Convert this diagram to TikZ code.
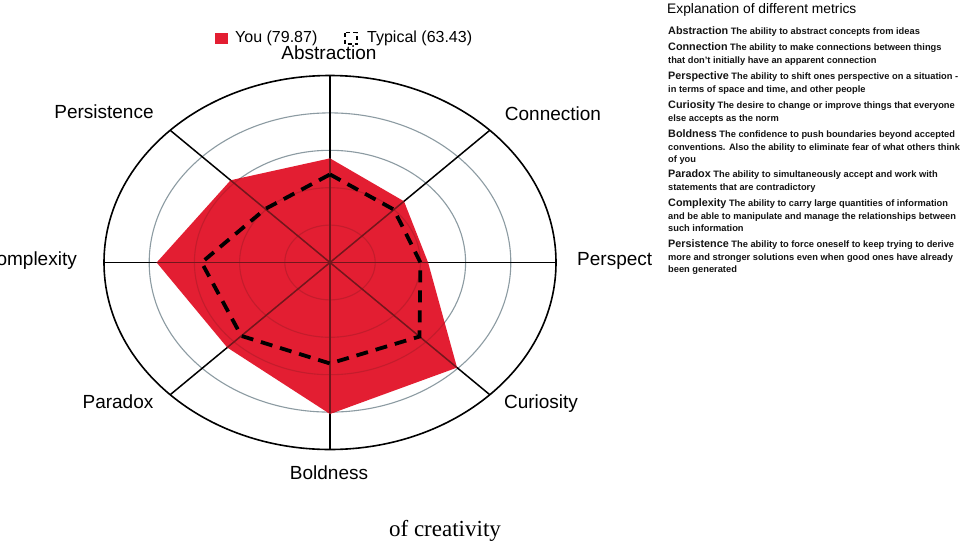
\documentclass[tikz,border=0pt]{standalone}
\usepackage{fontspec}
\setmainfont{Liberation Sans}
\newfontfamily\capfont{Liberation Serif}
\definecolor{youred}{RGB}{227,30,50}
\definecolor{ringgray}{RGB}{140,155,162}
\definecolor{axisred}{RGB}{115,22,28}
\definecolor{ringred}{RGB}{196,28,44}
\newcommand\mterm[1]{{\fontsize{10.8}{13}\selectfont #1}}
\tikzset{
  axlabel/.style={anchor=base, inner sep=0pt, font=\fontsize{19}{22}\selectfont},
  legtext/.style={anchor=base west, inner sep=0pt, font=\fontsize{16}{19}\selectfont},
  desc/.style={anchor=base west, inner sep=0pt, font=\fontsize{9.3}{11}\selectfont\bfseries, text=black!92},
  ringline/.style={ringgray, line width=1.1pt},
  axisline/.style={black, line width=1.5pt},
  typline/.style={black, line width=3.8pt, dash pattern=on 12pt off 8pt, line join=miter},
}
\begin{document}
\begin{tikzpicture}[x=1pt,y=1pt]
\clip (0,0) rectangle (964,-544);
\fill[white] (0,0) rectangle (964,-544);

\begin{scope}[shift={(330,-262.5)}]
  \coordinate (O) at (0,0);
  \foreach \r in {0.2,0.4,0.6,0.8}
    \draw[ringline] (O) ellipse ({\r*226} and {\r*187});
  \draw[black, line width=1.6pt] (O) ellipse (226 and 187);
  \foreach \a [count=\i] in {90,45,0,-45,-90,-135,180,135}
    \coordinate (a\i) at (\a:226 and 187);
  \foreach \i in {1,...,8}
    \draw[axisline] (O) -- (a\i);
  % You
  \foreach \a/\r [count=\i] in {90/0.557,45/0.463,0/0.434,-45/0.795,-90/0.81,-135/0.643,180/0.767,135/0.622}
    \coordinate (y\i) at (\a:{\r*226} and {\r*187});
  \fill[youred] (y1) -- (y2) -- (y3) -- (y4) -- (y5) -- (y6) -- (y7) -- (y8) -- cycle;
  \begin{scope}
    \clip (y1) -- (y2) -- (y3) -- (y4) -- (y5) -- (y6) -- (y7) -- (y8) -- cycle;
    \foreach \r in {0.2,0.4,0.6,0.8}
      \draw[ringred, line width=1.1pt] (O) ellipse ({\r*226} and {\r*187});
    \foreach \i in {1,...,8}
      \draw[axisred, line width=1.5pt] (O) -- (a\i);
  \end{scope}
  % Typical
  \foreach \a/\r [count=\i] in {90/0.471,45/0.40,0/0.40,-45/0.56,-90/0.54,-135/0.555,180/0.568,135/0.405}
    \coordinate (t\i) at (\a:{\r*226} and {\r*187});
  \draw[typline] (t1) -- (t2) -- (t3) -- (t4) -- (t5) -- (t6) -- (t7) -- (t8) -- cycle;
\end{scope}

% axis labels
\node[axlabel] (lab1) at (329,-59.5) {Abstraction};
\node[axlabel] (lab2) at (553,-120) {Connection};
\node[axlabel, anchor=base west] (lab3) at (577,-265) {Perspect};
\node[axlabel] (lab4) at (541,-408) {Curiosity};
\node[axlabel] (lab5) at (329,-479) {Boldness};
\node[axlabel] (lab6) at (118,-408) {Paradox};
\node[axlabel, anchor=base east] (lab7) at (77,-265) {Complexity};
\node[axlabel] (lab8) at (104,-118.3) {Persistence};

% legend
\fill[youred] (215,-32.5) rectangle (228,-43.5);
\node[legtext] (leg1) at (235,-42.7) {You (79.87)};
\draw[black, line width=1.6pt, dash pattern=on 4pt off 3pt] (345,-32.5) rectangle (357,-44);
\node[legtext] (leg2) at (367,-42.7) {Typical (63.43)};

% explanation panel
\node[anchor=base west, inner sep=0pt, font=\fontsize{13.8}{16}\selectfont] (title) at (667,-13.5) {Explanation of different metrics};
\node[desc] (d1) at (668,-34) {\mterm{Abstraction} The ability to abstract concepts from ideas};
\node[desc] (d2) at (668,-50) {\mterm{Connection} The ability to make connections between things};
\node[desc] (d2b) at (668,-63) {that don't initially have an apparent connection};
\node[desc] (d3) at (668,-79.5) {\mterm{Perspective} The ability to shift ones perspective on a situation -};
\node[desc] (d3b) at (668,-92.5) {in terms of space and time, and other people};
\node[desc] (d4) at (668,-108.5) {\mterm{Curiosity} The desire to change or improve things that everyone};
\node[desc] (d4b) at (668,-121.5) {else accepts as the norm};
\node[desc] (d5) at (668,-137) {\mterm{Boldness} The confidence to push boundaries beyond accepted};
\node[desc] (d5b) at (668,-150) {conventions. Also the ability to eliminate fear of what others think};
\node[desc] (d5c) at (668,-162) {of you};
\node[desc] (d6) at (668,-177.5) {\mterm{Paradox} The ability to simultaneously accept and work with};
\node[desc] (d6b) at (668,-190.5) {statements that are contradictory};
\node[desc] (d7) at (668,-206.5) {\mterm{Complexity} The ability to carry large quantities of information};
\node[desc] (d7b) at (668,-219.5) {and be able to manipulate and manage the relationships between};
\node[desc] (d7c) at (668,-231.5) {such information};
\node[desc] (d8) at (668,-247.5) {\mterm{Persistence} The ability to force oneself to keep trying to derive};
\node[desc] (d8b) at (668,-260.5) {more and stronger solutions even when good ones have already};
\node[desc] (d8c) at (668,-272.5) {been generated};

% caption
\node[anchor=base, inner sep=0pt, font=\capfont\fontsize{23}{26}\selectfont] (cap) at (445,-536.7) {of creativity};
\end{tikzpicture}
\end{document}
